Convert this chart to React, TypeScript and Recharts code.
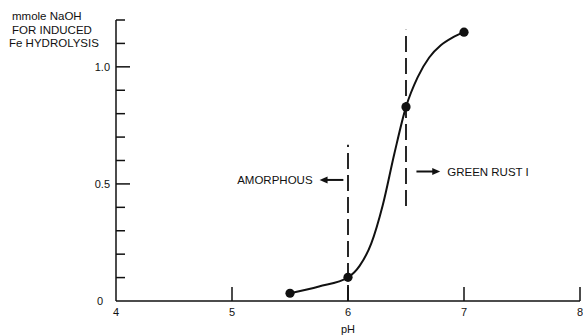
import React from 'react';
import { ComposedChart, Line, Scatter, XAxis, YAxis, ReferenceLine } from 'recharts';

// Measured points (pH, mmole NaOH)
const measuredPh = [5.5, 6.0, 6.5, 7.0];
const measuredNaOH = [0.033, 0.101, 0.829, 1.148];

// Hand-drawn fitted curve
const curvePh = [5.5, 5.75, 6.0, 6.1, 6.2, 6.3, 6.4, 6.5, 6.6, 6.7, 6.8, 6.9, 7.0];
const curveNaOH = [0.033, 0.062, 0.101, 0.15, 0.245, 0.41, 0.63, 0.829, 0.955, 1.04, 1.092, 1.125, 1.148];

// Axis ticks
const xTicks = [4, 5, 6, 7, 8];
const yTicks = [0, 0.1, 0.2, 0.3, 0.4, 0.5, 0.6, 0.7, 0.8, 0.9, 1.0, 1.1, 1.2];
const yTickLabels: Record<string, string> = { '0': '0', '0.5': '0.5', '1': '1.0' };
const yMajor = [0.5, 1.0];

// Phase boundaries (pH, from, to)
const amorphousBoundary = { ph: 6.0, from: 0, to: 0.667 };
const greenRustBoundary = { ph: 6.5, from: 0.406, to: 1.158 };

// Annotation arrows
const amorphousArrow = { from: 5.96, to: 5.755, level: 0.517, text: 'AMORPHOUS' };
const greenRustArrow = { from: 6.59, to: 6.795, level: 0.553, text: 'GREEN RUST I' };

const yTitle = ['mmole NaOH', 'FOR INDUCED', 'Fe HYDROLYSIS'];
const xTitle = 'pH';

const curveData = curvePh.map((x, i) => ({ x, y: curveNaOH[i] }));
const pointData = measuredPh.map((x, i) => ({ x, y: measuredNaOH[i] }));

const FONT = '"Liberation Sans", Arial, Helvetica, sans-serif';
const INK = '#111';

const YTick = (props: any) => {
  const { x, y, payload } = props;
  const v = payload.value;
  const major = yMajor.some((m) => Math.abs(m - v) < 1e-6);
  const label = yTickLabels[String(v)];
  return (
    <g>
      {v !== 0 && (
        <line x1={x} y1={y} x2={x + (major ? 14 : 9)} y2={y} stroke={INK} strokeWidth={1.5} />
      )}
      {label && (
        <text x={v === 0 ? x - 13 : x - 6} y={y + 4} textAnchor="end" fontSize={11} fontFamily={FONT} fill={INK}>
          {label}
        </text>
      )}
    </g>
  );
};

const XTick = (props: any) => {
  const { x, y, payload } = props;
  const v = payload.value;
  return (
    <g>
      {v !== 4 && <line x1={x} y1={y} x2={x} y2={y - 14} stroke={INK} strokeWidth={1.5} />}
      <text x={x} y={y + 15} textAnchor="middle" fontSize={11} fontFamily={FONT} fill={INK}>
        {v}
      </text>
    </g>
  );
};

const makeArrow = (text: string) => (props: any) => {
  const { x1, y1, x2, y2 } = props;
  const dir = x2 > x1 ? 1 : -1;
  const head = 8;
  return (
    <g>
      <line x1={x1} y1={y1} x2={x2 - dir * head * 0.6} y2={y2} stroke={INK} strokeWidth={2} />
      <polygon
        points={`${x2},${y2} ${x2 - dir * head},${y2 - 3.5} ${x2 - dir * head},${y2 + 3.5}`}
        fill={INK}
      />
      <text
        x={x2 + dir * 7}
        y={y2 + 4}
        textAnchor={dir > 0 ? 'start' : 'end'}
        fontSize={11.5}
        fontFamily={FONT}
        fill={INK}
      >
        {text}
      </text>
    </g>
  );
};

export default function App() {
  return (
    <div style={{ position: 'absolute', left: 0, top: 0, background: '#fff' }}>
      <ComposedChart width={583} height={335} margin={{ top: 20, right: 3, bottom: 0, left: 0 }}>
        <XAxis
          dataKey="x"
          type="number"
          domain={[4, 8]}
          ticks={xTicks}
          interval={0}
          height={34}
          tickSize={0}
          tickMargin={0}
          tickLine={false}
          tick={<XTick />}
          axisLine={{ stroke: INK, strokeWidth: 1.5 }}
          allowDataOverflow
        />
        <YAxis
          dataKey="y"
          type="number"
          domain={[0, 1.2]}
          ticks={yTicks}
          interval={0}
          width={116}
          tickSize={0}
          tickMargin={0}
          tickLine={false}
          tick={<YTick />}
          axisLine={{ stroke: INK, strokeWidth: 1.5 }}
          allowDataOverflow
        />
        <ReferenceLine
          segment={[
            { x: amorphousBoundary.ph, y: amorphousBoundary.from },
            { x: amorphousBoundary.ph, y: amorphousBoundary.to },
          ]}
          stroke={INK}
          strokeWidth={1.8}
          strokeDasharray="16 6"
          ifOverflow="visible"
        />
        <ReferenceLine
          segment={[
            { x: greenRustBoundary.ph, y: greenRustBoundary.from },
            { x: greenRustBoundary.ph, y: greenRustBoundary.to },
          ]}
          stroke={INK}
          strokeWidth={1.8}
          strokeDasharray="16 6"
          ifOverflow="visible"
        />
        <ReferenceLine
          segment={[
            { x: amorphousArrow.from, y: amorphousArrow.level },
            { x: amorphousArrow.to, y: amorphousArrow.level },
          ]}
          shape={makeArrow(amorphousArrow.text)}
          ifOverflow="visible"
        />
        <ReferenceLine
          segment={[
            { x: greenRustArrow.from, y: greenRustArrow.level },
            { x: greenRustArrow.to, y: greenRustArrow.level },
          ]}
          shape={makeArrow(greenRustArrow.text)}
          ifOverflow="visible"
        />
        <Line
          data={curveData}
          dataKey="y"
          type="monotone"
          stroke={INK}
          strokeWidth={2}
          dot={false}
          activeDot={false}
          isAnimationActive={false}
        />
        <Scatter
          data={pointData}
          dataKey="y"
          fill={INK}
          shape={(p: any) => <circle cx={p.cx} cy={p.cy} r={4.6} fill={INK} />}
          isAnimationActive={false}
        />
        <text fontSize={11.5} fontFamily={FONT} fill={INK}>
          <tspan x={12} y={20}>{yTitle[0]}</tspan>
          <tspan x={12} y={33.5}>{yTitle[1]}</tspan>
          <tspan x={9} y={47}>{yTitle[2]}</tspan>
        </text>
        <text x={348} y={333} textAnchor="middle" fontSize={11} fontFamily={FONT} fill={INK}>
          {xTitle}
        </text>
      </ComposedChart>
    </div>
  );
}
